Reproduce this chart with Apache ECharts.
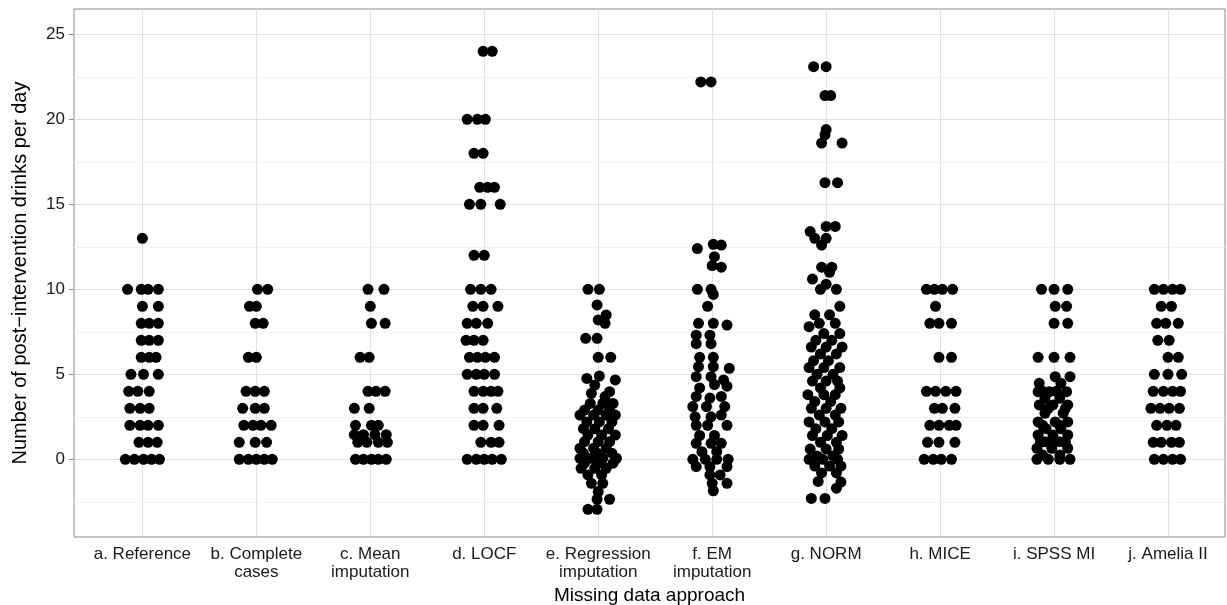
<!DOCTYPE html>
<html>
<head>
<meta charset="utf-8">
<script src="https://cdn.jsdelivr.net/npm/echarts@6/dist/echarts.min.js"></script>
<style>
html, body { margin: 0; padding: 0; background: #fff; }
#chart { width: 1227px; height: 605px; }
</style>
</head>
<body>
<div id="chart"></div>
<script>
// categories on the x axis (1..10)
var categories = ['a. Reference', 'b. Complete\ncases', 'c. Mean\nimputation', 'd. LOCF',
  'e. Regression\nimputation', 'f. EM\nimputation', 'g. NORM', 'h. MICE', 'i. SPSS MI', 'j. Amelia II'];
var yTicks = [0, 5, 10, 15, 20, 25];
var yMinor = [-2.5, 2.5, 7.5, 12.5, 17.5, 22.5];

// each point: [horizontal jitter, drinks per day]
var ptsA = [[0,13],[-0.13,10],[-0.01,10],[0.05,10],[0.14,10],[0,9],[0.14,9],[-0.01,8],[0.06,8],[0.14,8],
  [-0.01,7],[0.06,7],[0.14,7],[-0.01,6],[0.06,6],[0.12,6],[-0.1,5],[0.01,5],[0.14,5],
  [-0.12,4],[-0.04,4],[0.06,4],[-0.11,3],[-0.02,3],[0.06,3],[-0.11,2],[-0.02,2],[0.05,2],[0.14,2],
  [-0.03,1],[0.05,1],[0.13,1],[-0.15,0],[-0.07,0],[0.01,0],[0.08,0],[0.15,0]];
var ptsB = [[0.01,10],[0.1,10],[-0.06,9],[0,9],[-0.01,8],[0.06,8],[-0.07,6],[0,6],
  [-0.09,4],[-0.01,4],[0.07,4],[-0.12,3],[-0.01,3],[0.07,3],[-0.11,2],[-0.03,2],[0.04,2],[0.13,2],
  [-0.15,1],[-0.01,1],[0.09,1],[-0.15,0],[-0.07,0],[0,0],[0.07,0],[0.14,0]];
var ptsC = [[-0.02,10],[0.12,10],[0,9],[0.01,8],[0.13,8],[-0.09,6],[-0.01,6],
  [-0.02,4],[0.05,4],[0.13,4],[-0.14,3],[-0.01,3],[-0.13,2],[0.01,2],[0.07,2],
  [-0.14,1.45],[-0.06,1.45],[0.04,1.45],[0.14,1.45],[-0.11,1],[-0.03,1],[0.07,1],[0.15,1],
  [-0.13,0],[-0.06,0],[0.01,0],[0.07,0],[0.14,0]];
var ptsD = [[-0.01,24],[0.07,24],[-0.15,20],[-0.06,20],[0.01,20],[-0.09,18],[-0.01,18],
  [-0.04,16],[0.03,16],[0.09,16],[-0.13,15],[-0.03,15],[0.14,15],[-0.09,12],[0,12],
  [-0.12,10],[-0.03,10],[0.06,10],[-0.1,9],[-0.01,9],[0.12,9],[-0.15,8],[-0.07,8],[0.03,8],
  [-0.16,7],[-0.09,7],[-0.01,7],[-0.13,6],[-0.06,6],[0.01,6],[0.09,6],[-0.15,5],[-0.07,5],[0,5],[0.09,5],
  [-0.09,4],[-0.01,4],[0.06,4],[0.12,4],[-0.09,3],[-0.01,3],[0.11,3],[-0.09,2],[-0.01,2],[0.13,2],
  [-0.03,1],[0.06,1],[0.13,1],[-0.15,0],[-0.07,0],[0,0],[0.07,0],[0.15,0]];
var ptsE = [[-0.09,10],[0.01,10],[-0.01,9.08],[0.07,8.49],[0,8.2],[0.06,8],[-0.11,7.12],[-0.01,7.12],
  [0,6],[0.11,6],[-0.1,4.76],[0.01,4.9],[0.15,4.67],[-0.03,4.37],[0.1,3.98],[-0.06,3.88],[0.06,3.69],
  [-0.07,3.29],[0.04,3.29],[0.13,3.29],[-0.12,2.9],[0,2.9],[0.1,2.9],[-0.16,2.6],[-0.04,2.6],[0.07,2.6],[0.15,2.6],
  [-0.1,2.2],[0.01,2.2],[0.12,2.2],[-0.13,1.8],[-0.03,1.8],[0.09,1.8],[-0.09,1.43],[0.03,1.43],[0.15,1.43],
  [-0.12,1.04],[0,1.04],[0.1,1.04],[-0.16,0.65],[-0.04,0.65],[0.07,0.65],[-0.13,0.36],[-0.01,0.36],[0.12,0.36],
  [-0.16,0.06],[-0.06,0.06],[0.04,0.06],[0.16,0.06],[-0.12,-0.23],[0,-0.23],[0.13,-0.23],
  [-0.15,-0.53],[-0.03,-0.53],[0.07,-0.53],[-0.09,-0.92],[0.03,-0.92],[-0.06,-1.41],[0.04,-1.41],
  [0,-1.9],[-0.01,-2.35],[0.1,-2.35],[-0.09,-2.94],[-0.01,-2.94]];
var ptsF = [[-0.1,22.2],[-0.01,22.2],[-0.13,12.4],[0.01,12.65],[0.08,12.6],[0.02,11.92],[0,11.4],[0.08,11.3],
  [-0.13,10],[-0.01,10],[0.01,9.7],[-0.04,9],[-0.12,8],[0.01,8],[0.13,7.9],[-0.14,7.3],[-0.02,7.3],
  [-0.14,6.8],[-0.01,6.8],[-0.11,6],[0.01,6],[-0.12,5.45],[0.01,5.45],[0.15,5.35],
  [-0.14,4.86],[-0.01,4.86],[0.1,4.67],[-0.11,4.2],[0.02,4.4],[0.13,4.3],[-0.14,3.7],[-0.02,3.6],[0.08,3.7],
  [-0.17,3.1],[-0.05,3.1],[0.11,3.1],[-0.15,2.5],[-0.01,2.5],[0.08,2.6],[-0.14,2],[-0.04,2],[0.13,2],
  [-0.11,1.4],[0.02,1.4],[-0.14,0.94],[-0.01,0.94],[0.08,0.94],[-0.09,0.45],[0.04,0.45],
  [-0.17,0],[-0.06,0],[0.04,0],[0.14,0],[-0.14,-0.43],[-0.02,-0.43],[0.13,-0.43],
  [-0.02,-0.92],[0.07,-0.92],[0,-1.41],[0.13,-1.41],[0.01,-1.85]];
var ptsG = [[-0.11,23.1],[0,23.1],[-0.01,21.4],[0.04,21.4],[0,19.4],[-0.01,19.1],[-0.04,18.6],[0.14,18.6],
  [-0.01,16.27],[0.1,16.27],[0,13.7],[0.08,13.7],[-0.14,13.4],[-0.1,13],[0,13],[-0.04,12.6],
  [-0.04,11.3],[0.05,11.3],[0.03,11],[-0.12,10.6],[0,10.3],[-0.05,10],[0.09,10],[0.12,9],
  [-0.1,8.5],[0.03,8.5],[-0.06,8],[0.08,8],[-0.15,7.8],[-0.02,7.4],[0.12,7.4],[-0.09,7],[0.05,7],
  [-0.13,6.6],[0,6.6],[0.14,6.6],[-0.05,6.2],[0.09,6.2],[-0.11,5.8],[0.02,5.8],[-0.15,5.4],[-0.02,5.4],[0.12,5.4],
  [-0.08,5],[0.06,5],[-0.12,4.6],[0,4.6],[0.1,4.6],[-0.05,4.2],[0.12,4.2],[-0.16,3.8],[-0.02,3.8],[0.08,3.8],
  [-0.1,3.4],[0.04,3.4],[-0.13,3],[0,3],[0.13,3],[-0.06,2.6],[0.08,2.6],[-0.15,2.2],[-0.01,2.2],[0.11,2.2],
  [-0.09,1.8],[0.05,1.8],[-0.12,1.4],[0.01,1.4],[0.14,1.4],[-0.05,1],[0.09,1],[-0.14,0.6],[0,0.6],[0.11,0.6],
  [-0.08,0.2],[0.06,0.2],[-0.15,0],[-0.03,0],[0.1,0],[-0.1,-0.4],[0.03,-0.4],[0.13,-0.4],[-0.04,-0.8],[0.09,-0.8],
  [-0.07,-1.3],[0.13,-1.34],[0.09,-1.7],[-0.13,-2.3],[-0.01,-2.3]];
var ptsH = [[-0.12,10],[-0.05,10],[0.02,10],[0.11,10],[-0.04,9],[-0.09,8],[-0.01,8],[0.1,8],[-0.01,6],[0.1,6],
  [-0.12,4],[-0.04,4],[0.05,4],[0.14,4],[-0.05,3],[0.02,3],[0.13,3],[-0.09,2],[-0.01,2],[0.08,2],[0.14,2],
  [-0.11,1],[-0.01,1],[0.13,1],[-0.14,0],[-0.06,0],[0.01,0],[0.1,0]];
var ptsI = [[-0.11,10],[0,10],[0.12,10],[0.01,9],[0.11,9],[0,8],[0.12,8],[-0.14,6],[0,6],[0.14,6],
  [0.01,4.86],[0.14,4.86],[-0.13,4.47],[0.06,4.47],[-0.14,3.98],[-0.04,3.98],[0.11,3.98],[-0.1,4],[0.02,4],
  [-0.08,3.59],[0.05,3.59],[-0.13,3.2],[-0.01,3.2],[0.12,3.2],[-0.05,3],[0.1,3],[-0.08,2.71],[0.08,2.71],
  [-0.14,2.2],[0.01,2.2],[0.12,2.2],[-0.1,2],[0.05,2],[-0.07,1.8],[0.06,1.8],[-0.14,1.43],[-0.01,1.43],[0.12,1.43],
  [-0.12,1],[0,1],[0.1,1],[-0.08,1.04],[0.05,1.04],[-0.15,0.65],[-0.02,0.65],[0.12,0.65],[-0.1,0.25],[0.05,0.25],
  [-0.15,0],[-0.05,0],[0.05,0],[0.14,0]];
var ptsJ = [[-0.12,10],[-0.04,10],[0.04,10],[0.11,10],[-0.06,9],[0.03,9],[-0.1,8],[-0.02,8],[0.09,8],
  [-0.09,7],[0.01,7],[0,6],[0.09,6],[-0.12,5],[0,5],[0.12,5],[-0.13,4],[-0.04,4],[0.04,4],[0.11,4],
  [-0.15,3],[-0.07,3],[0.01,3],[0.1,3],[-0.1,2],[-0.01,2],[0.07,2],[-0.13,1],[-0.06,1],[0.03,1],[0.1,1],
  [-0.12,0],[-0.04,0],[0.04,0],[0.11,0]];

var groups = [ptsA, ptsB, ptsC, ptsD, ptsE, ptsF, ptsG, ptsH, ptsI, ptsJ];
var catPos = categories.map(function (c, i) { return i + 1; });

var points = [];
groups.forEach(function (g, i) {
  g.forEach(function (p) { points.push([i + 1 + p[0], p[1]]); });
});

var font = 'Liberation Sans, Arial, sans-serif';
var chart = echarts.init(document.getElementById('chart'));

chart.setOption({
  animation: false,
  grid: {
    left: 74, right: 2, top: 9, bottom: 68, outerBoundsMode: 'none',
    show: true, borderColor: '#8c8c8c', borderWidth: 1, backgroundColor: '#fff'
  },
  xAxis: {
    type: 'value', min: 0.4, max: 10.5,
    name: 'Missing data approach', nameLocation: 'middle', nameGap: 36,
    nameTextStyle: { fontFamily: font, fontSize: 19, color: '#000' },
    axisLine: { show: false },
    splitLine: { show: false },
    axisTick: { show: true, customValues: catPos, length: 5, lineStyle: { color: '#8c8c8c' } },
    axisLabel: {
      customValues: catPos, margin: 8, fontFamily: font, fontSize: 17, color: '#1a1a1a', lineHeight: 18,
      formatter: function (v) { return categories[Math.round(v) - 1]; }
    }
  },
  yAxis: {
    type: 'value', min: -4.57, max: 26.49,
    name: 'Number of post\u2212intervention drinks per day', nameLocation: 'middle', nameGap: 44,
    nameTextStyle: { fontFamily: font, fontSize: 20, color: '#000' },
    axisLine: { show: false },
    splitLine: { show: false },
    axisTick: { show: true, customValues: yTicks, length: 5, lineStyle: { color: '#8c8c8c' } },
    axisLabel: { customValues: yTicks, margin: 9, fontFamily: font, fontSize: 17, color: '#1a1a1a' }
  },
  series: [
    {
      type: 'scatter', data: [], z: 1, silent: true,
      markLine: {
        z: 1, silent: true, symbol: 'none', label: { show: false },
        lineStyle: { type: 'solid', width: 1, color: '#f3f3f3' },
        data: yMinor.map(function (v) { return { yAxis: v }; })
      }
    },
    {
      type: 'scatter', data: [], z: 1, silent: true,
      markLine: {
        z: 1, silent: true, symbol: 'none', label: { show: false },
        lineStyle: { type: 'solid', width: 1, color: '#e3e3e3' },
        data: yTicks.map(function (v) { return { yAxis: v }; })
          .concat(catPos.map(function (v) { return { xAxis: v }; }))
      }
    },
    {
      type: 'scatter', data: points, z: 10, symbolSize: 11,
      itemStyle: { color: '#000', opacity: 1 }
    }
  ]
});
</script>
</body>
</html>
